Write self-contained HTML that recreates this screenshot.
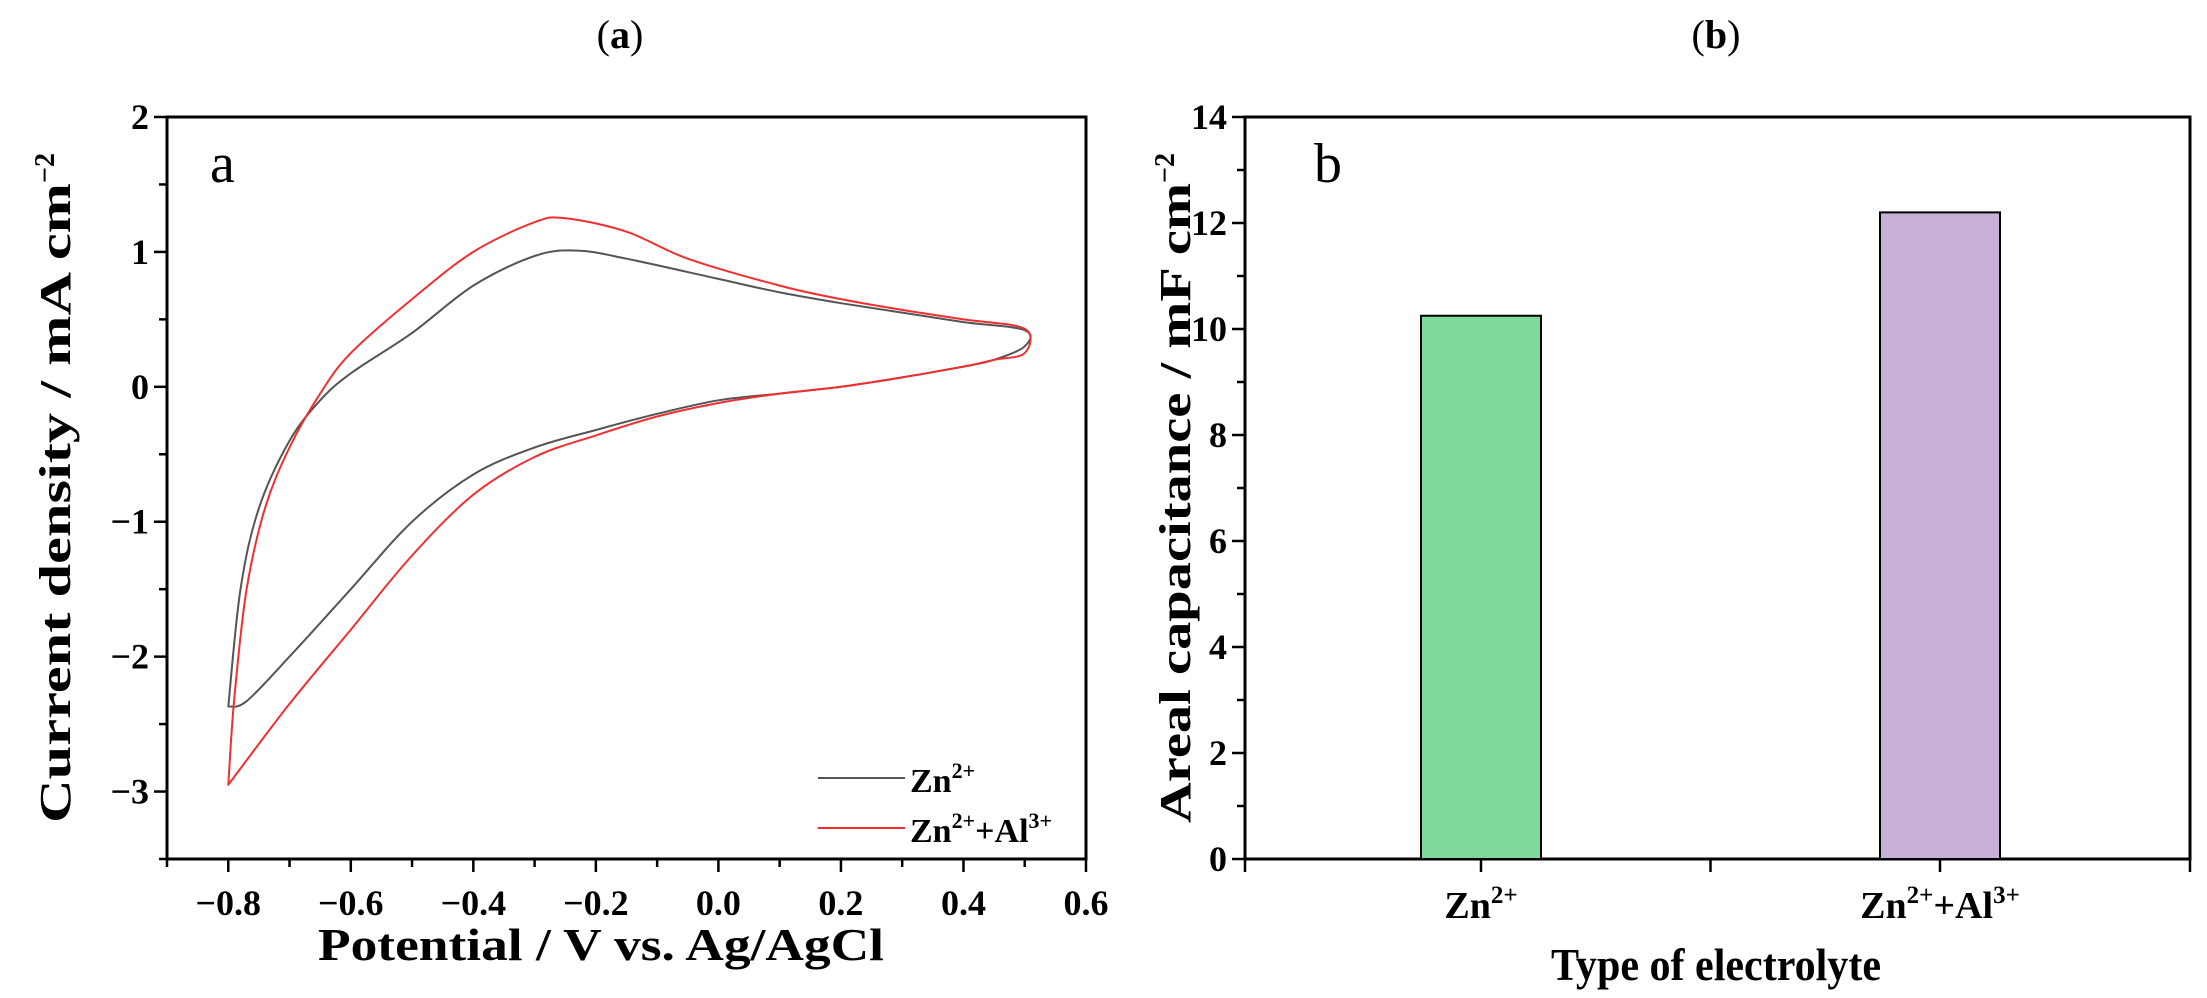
<!DOCTYPE html>
<html><head><meta charset="utf-8"><style>
html,body{margin:0;padding:0;background:#fff;}
svg{display:block;font-family:"Liberation Serif",serif;}
</style></head><body>
<svg id="fig" width="2207" height="998" viewBox="0 0 2207 998" xmlns="http://www.w3.org/2000/svg">
<text x="620" y="48" font-size="40" text-anchor="middle">(<tspan font-weight="bold">a</tspan>)</text>
<text x="1716" y="48" font-size="40" text-anchor="middle">(<tspan font-weight="bold">b</tspan>)</text>
<g id="pa"></g>
<g id="pb"></g>
</svg>
<script>
// ---- Panel a data ----
const cvXTicks = [-0.8,-0.6,-0.4,-0.2,0.0,0.2,0.4,0.6];
const cvYTicks = [-3,-2,-1,0,1,2];
const znX = [-0.8,-0.78,-0.75,-0.7,-0.65,-0.6,-0.5,-0.4,-0.3,-0.23,-0.15,0,0.1,0.2,0.3,0.4,0.5,0.5,0.45,0.4,0.3,0.2,0.1,0,-0.1,-0.2,-0.3,-0.4,-0.5,-0.6,-0.7,-0.77,-0.8];
const znY = [-2.37,-1.5,-0.9,-0.4,-0.1,0.1,0.4,0.75,0.97,1.01,0.95,0.8,0.7,0.62,0.55,0.48,0.42,0.3,0.2,0.15,0.07,0.0,-0.05,-0.1,-0.2,-0.32,-0.45,-0.65,-1.0,-1.5,-2.0,-2.33,-2.37];
const znAlX = [-0.8,-0.79,-0.77,-0.74,-0.7,-0.65,-0.6,-0.5,-0.4,-0.3,-0.25,-0.15,-0.05,0.1,0.2,0.3,0.4,0.5,0.5,0.45,0.4,0.3,0.2,0.1,0,-0.1,-0.2,-0.3,-0.4,-0.5,-0.6,-0.7,-0.8];
const znAlY = [-2.95,-2.3,-1.5,-0.9,-0.45,-0.05,0.25,0.65,1.0,1.22,1.25,1.15,0.95,0.75,0.65,0.57,0.5,0.43,0.25,0.2,0.15,0.07,0.0,-0.05,-0.12,-0.22,-0.36,-0.52,-0.8,-1.25,-1.8,-2.35,-2.95];
// ---- Panel b data ----
const barCats = ["Zn2+","Zn2+Al3+"];
const barVals = [10.25,12.2];
const barYTicks = [0,2,4,6,8,10,12,14];

const NS="http://www.w3.org/2000/svg";
function mk(p,t,a){const e=document.createElementNS(NS,t);for(const k in a)e.setAttribute(k,a[k]);p.appendChild(e);return e;}

// Panel a
const pa=document.getElementById('pa');
const L=167,R=1086,T=117,B=859;
const xa=v=>L+(v+0.9)/1.5*(R-L);
const ya=v=>T+(2-v)/5.5*(B-T);
let fr=mk(pa,'rect',{x:L,y:T,width:R-L,height:B-T,fill:'none',stroke:'#000','stroke-width':3});


for(let v=-0.9;v<=0.6001;v+=0.1){const x=xa(v);const maj=cvXTicks.some(t=>Math.abs(t-v)<1e-6);
 mk(pa,'line',{x1:x,y1:B,x2:x,y2:B+(maj?13:8),stroke:'#000','stroke-width':2.5});}
cvXTicks.forEach(t=>{const e=mk(pa,'text',{x:xa(t),y:915,'font-size':36,'font-weight':'bold','text-anchor':'middle'});e.textContent=(t<0?'\u2212':'')+Math.abs(t).toFixed(1);
 
 });
for(let v=-3.5;v<=2.001;v+=0.5){const y=ya(v);const maj=Math.abs(v-Math.round(v))<1e-6;
 mk(pa,'line',{x1:L,y1:y,x2:L-(maj?13:8),y2:y,stroke:'#000','stroke-width':2.5});}
cvYTicks.forEach(t=>{const e=mk(pa,'text',{x:L-18,y:ya(t)+12,'font-size':36,'font-weight':'bold','text-anchor':'end'});e.textContent=(t<0?'\u2212':'')+Math.abs(t);
 
 });
function smooth(xs,ys){const p=xs.map((x,i)=>[xa(x),ya(ys[i])]);let d='M'+p[0][0].toFixed(1)+','+p[0][1].toFixed(1);
 for(let i=0;i<p.length-1;i++){const p0=p[Math.max(i-1,0)],p1=p[i],p2=p[i+1],p3=p[Math.min(i+2,p.length-1)];
  const c1=[p1[0]+(p2[0]-p0[0])/6,p1[1]+(p2[1]-p0[1])/6],c2=[p2[0]-(p3[0]-p1[0])/6,p2[1]-(p3[1]-p1[1])/6];
  d+='C'+c1.map(v=>v.toFixed(1)).join(',')+' '+c2.map(v=>v.toFixed(1)).join(',')+' '+p2.map(v=>v.toFixed(1)).join(',');}
 return d+'Z';}
let s1=mk(pa,'path',{d:smooth(znX,znY),fill:'none',stroke:'#555','stroke-width':2,'stroke-linejoin':'round'});


let s2=mk(pa,'path',{d:smooth(znAlX,znAlY),fill:'none',stroke:'#f03030','stroke-width':2,'stroke-linejoin':'round'});


let la=mk(pa,'text',{x:210,y:182,'font-size':56});la.textContent='a';


mk(pa,'line',{x1:818,y1:778,x2:905,y2:778,stroke:'#555','stroke-width':2});
mk(pa,'line',{x1:818,y1:828,x2:905,y2:828,stroke:'#f03030','stroke-width':2});
let l1=mk(pa,'text',{x:910,y:792,'font-size':34,'font-weight':'bold'});l1.innerHTML='Zn<tspan dy="-14" font-size="22">2+</tspan>';


let l2=mk(pa,'text',{x:910,y:842,'font-size':34,'font-weight':'bold'});l2.innerHTML='Zn<tspan dy="-14" font-size="22">2+</tspan><tspan dy="14">+Al</tspan><tspan dy="-14" font-size="22">3+</tspan>';


let xt=mk(pa,'text',{x:601,y:960,'font-size':46,'font-weight':'bold','text-anchor':'middle',textLength:566,lengthAdjust:'spacingAndGlyphs'});xt.textContent='Potential / V vs. Ag/AgCl';


let yt=mk(pa,'text',{x:0,y:0,'font-size':44,'font-weight':'bold','text-anchor':'middle',transform:'translate(70,488) rotate(-90)'});yt.innerHTML='<tspan textLength="640" lengthAdjust="spacingAndGlyphs">Current density / mA cm</tspan><tspan dy="-16" font-size="28">\u22122</tspan>';



// Panel b
const pb=document.getElementById('pb');
const L2=1245,R2=2190;
const yb=v=>B-v/14*(B-T);
const xc=i=>[1481,1940][i];
let fb=mk(pb,'rect',{x:L2,y:T,width:R2-L2,height:B-T,fill:'none',stroke:'#000','stroke-width':3});


barVals.forEach((v,i)=>{const b=mk(pb,'rect',{x:xc(i)-60,y:yb(v),width:120,height:B-yb(v),fill:i?'#c8b1d6':'#7fd99a',stroke:'#000','stroke-width':2});
 
 });
[L2,xc(0),(xc(0)+xc(1))/2,xc(1),R2].forEach(x=>mk(pb,'line',{x1:x,y1:B,x2:x,y2:B+13,stroke:'#000','stroke-width':2.5}));
for(let v=0;v<=14;v+=1){mk(pb,'line',{x1:L2,y1:yb(v),x2:L2-(v%2?8:13),y2:yb(v),stroke:'#000','stroke-width':2.5});}
barYTicks.forEach(t=>{const e=mk(pb,'text',{x:L2-18,y:yb(t)+12,'font-size':36,'font-weight':'bold','text-anchor':'end'});e.textContent=t;
 
 });
barCats.forEach((c,i)=>{const e=mk(pb,'text',{x:xc(i),y:918,'font-size':38,'font-weight':'bold','text-anchor':'middle'});
 e.innerHTML=i?'Zn<tspan dy="-15" font-size="25">2+</tspan><tspan dy="15">+Al</tspan><tspan dy="-15" font-size="25">3+</tspan>':'Zn<tspan dy="-15" font-size="25">2+</tspan>';
 
 });
let lb=mk(pb,'text',{x:1314,y:182,'font-size':56});lb.textContent='b';


let xt2=mk(pb,'text',{x:1716,y:980,'font-size':46,'font-weight':'bold','text-anchor':'middle',textLength:330,lengthAdjust:'spacingAndGlyphs'});xt2.textContent='Type of electrolyte';


let yt2=mk(pb,'text',{x:0,y:0,'font-size':44,'font-weight':'bold','text-anchor':'middle',transform:'translate(1190,488) rotate(-90)'});yt2.innerHTML='<tspan textLength="640" lengthAdjust="spacingAndGlyphs">Areal capacitance / mF cm</tspan><tspan dy="-16" font-size="28">\u22122</tspan>';


</script>
</body></html>
